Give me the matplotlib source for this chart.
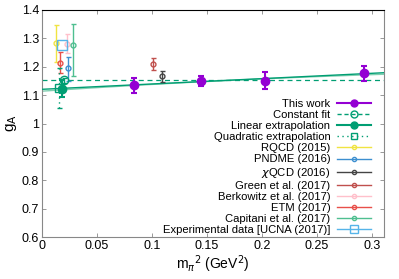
import numpy as np
import matplotlib
matplotlib.use('Agg')
import matplotlib.pyplot as plt
from matplotlib.lines import Line2D

# this work
tw_x = [0.0835, 0.145, 0.203, 0.293]
tw_y = [1.135, 1.149, 1.151, 1.177]
tw_err = [0.027, 0.017, 0.030, 0.027]

# fits / extrapolations
const_val = 1.152
const_x, const_err = 0.020, 0.010
lin_x, lin_y, lin_err = 0.0178, 1.123, 0.030
lin_a, lin_b = 1.1205, 0.188
quad_x, quad_y, quad_err = 0.0157, 1.125, 0.070
quad_c = [1.114, 0.26, -0.22]

# other lattice results: label, x, y, err_lo, err_hi, colour
others = [
    ('RQCD (2015)', 0.0127, 1.283, 0.065, 0.064, '#f0e442'),
    ('PNDME (2016)', 0.0233, 1.196, 0.046, 0.039, '#3d8fd0'),
    (r'$\chi$QCD (2016)', 0.109, 1.168, 0.021, 0.018, '#444444'),
    ('Green et al. (2017)', 0.1008, 1.209, 0.020, 0.021, '#c0504d'),
    ('Berkowitz et al. (2017)', 0.0227, 1.281, 0.034, 0.033, '#ffc0cb'),
    ('ETM (2017)', 0.0166, 1.214, 0.037, 0.039, '#e8504a'),
    ('Capitani et al. (2017)', 0.0279, 1.278, 0.111, 0.072, '#4fbf90'),
]
ucna_x, ucna_y = 0.0179, 1.2772

purple = '#9400d3'
green = '#009e73'
ucna_col = '#56b4e9'

plt.rcParams['font.family'] = 'Liberation Sans'
fig = plt.figure(figsize=(3.99, 2.79), dpi=100)
ax = fig.add_axes([42 / 399, 1 - 237 / 279, (384 - 42) / 399, (237 - 10) / 279])

xs = np.linspace(0, 0.311, 200)
ax.plot(xs, np.polyval(quad_c[::-1], xs), color='#7fcfb0', lw=1.0, zorder=2)
ax.plot(xs, lin_a + lin_b * xs, color=green, lw=1.0, zorder=3)
ax.axhline(const_val, color=green, lw=0.9, ls=(0, (4, 3)), zorder=2)

for lab, x, y, lo, hi, c in others:
    ax.errorbar([x], [y], yerr=[[lo], [hi]], fmt='o', ms=3.5, mfc='none', mec=c,
                color=c, ecolor=c, elinewidth=1.0, capsize=1.8, capthick=1.0, zorder=4)

ax.plot([ucna_x], [ucna_y], 's', ms=7, mfc='none', mec=ucna_col, mew=1.0, zorder=5)

eb = ax.errorbar([quad_x], [quad_y], yerr=[quad_err], fmt='s', ms=6, mfc='none', mec=green,
                 ecolor=green, elinewidth=1.0, capsize=1.8, zorder=5)
eb[2][0].set_linestyle((0, (1, 2.5)))
eb = ax.errorbar([const_x], [const_val], yerr=[const_err], fmt='o', ms=6, mfc='none', mec=green,
                 ecolor=green, elinewidth=1.0, capsize=1.8, zorder=5)
eb[2][0].set_linestyle((0, (3, 2)))
ax.errorbar([lin_x], [lin_y], yerr=[lin_err], fmt='o', ms=6, color=green,
            elinewidth=1.5, capsize=2, capthick=1.5, zorder=6)

ax.errorbar(tw_x, tw_y, yerr=tw_err, fmt='o', ms=6, color=purple,
            elinewidth=1.5, capsize=2, capthick=1.5, zorder=6)

ax.set_xlim(0, 0.311)
ax.set_ylim(0.6, 1.4)
ax.set_xticks(np.arange(0, 0.31, 0.05))
ax.set_xticklabels(['0', '0.05', '0.1', '0.15', '0.2', '0.25', '0.3'])
ax.set_yticks(np.arange(0.6, 1.41, 0.1))
ax.set_yticklabels(['0.6', '0.7', '0.8', '0.9', '1', '1.1', '1.2', '1.3', '1.4'])
ax.tick_params(direction='in', length=3, width=0.6, labelsize=9, top=True, right=True,
               color='#888888', pad=2)
for s in ['left', 'right', 'bottom']:
    ax.spines[s].set_color('#888888')
ax.spines['top'].set_color('black')
ax.set_xlabel(r'm$_{\pi}$$^2$ (GeV$^2$)', fontsize=10, labelpad=1)
ax.set_ylabel(r'g$_\mathrm{A}$', fontsize=11, labelpad=2)

handles = [
    Line2D([], [], color=purple, lw=1.5, marker='o', ms=5),
    Line2D([], [], color=green, lw=1.0, ls=(0, (3, 2)), marker='o', ms=5, mfc='none'),
    Line2D([], [], color=green, lw=1.5, marker='o', ms=5),
    Line2D([], [], color=green, lw=1.0, ls=(0, (1, 2.5)), marker='s', ms=5, mfc='none'),
]
labels = ['This work', 'Constant fit', 'Linear extrapolation', 'Quadratic extrapolation']
for lab, x, y, lo, hi, c in others:
    handles.append(Line2D([], [], color=c, lw=1.0, marker='o', ms=3, mfc='none'))
    labels.append(lab)
handles.append(Line2D([], [], color=ucna_col, lw=1.0, marker='s', ms=6, mfc='none'))
labels.append('Experimental data [UCNA (2017)]')

ax.legend(handles, labels, loc='lower right', frameon=False, markerfirst=False,
          fontsize=8.1, handlelength=3.0, labelspacing=0.1, handletextpad=0.6,
          borderaxespad=0.0, bbox_to_anchor=(0.975, -0.012))

fig.savefig('out.png', dpi=100)
